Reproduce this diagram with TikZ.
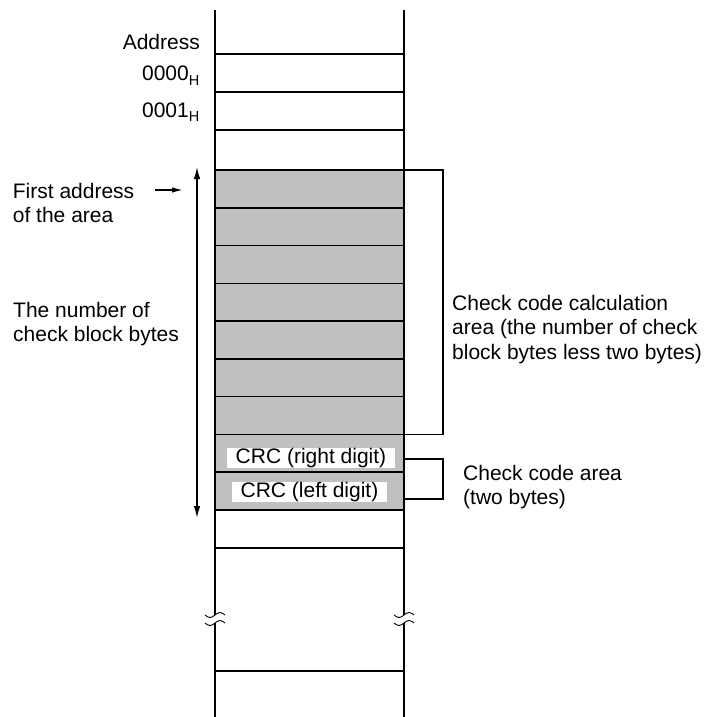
\documentclass[tikz,border=0pt]{standalone}
\usepackage{fontspec}
\setmainfont{Liberation Sans}
\usetikzlibrary{arrows.meta,calc}
\definecolor{cellgray}{RGB}{192,192,192}
\begin{document}
\begin{tikzpicture}[x=1pt,y=-1pt,
  every node/.style={font=\fontsize{21}{24.5}\selectfont},
  cell/.style={draw, line width=1.5pt, minimum width=189pt, minimum height=37.78pt, inner sep=0pt, outer sep=0pt},
  gcell/.style={cell, fill=cellgray},
  lbl/.style={align=left, anchor=north west, inner sep=0pt},
  addrlbl/.style={anchor=base east, inner sep=0pt},
  crc/.style={fill=white, inner xsep=9pt, inner ysep=0.5pt},
  wire/.style={line width=1.5pt},
  tilde/.style={line width=0.9pt},
  tip/.style={-{Latex[length=12pt,width=6.5pt]}, line width=1.4pt},
  dtip/.style={{Latex[length=12pt,width=6.5pt]}-{Latex[length=12pt,width=6.5pt]}, line width=1.4pt}]
\useasboundingbox (0,0) rectangle (705,717);

% memory cells
\node[cell] (c0) at (309.5,73) {};
\node[cell] (c1) at (309.5,111) {};
\foreach \i in {1,...,9} {
  \node[gcell] (g\i) at (309.5,{170+37.78*(\i-0.5)}) {};
}
\node[cell] (w1) at (309.5,529) {};
\draw[line width=2.6pt] (c0.south west) -- (c0.south east);

% column lines with break marks
\coordinate (LT) at (215,10);  \coordinate (LU) at (215,615);
\coordinate (LL) at (215,623); \coordinate (LB) at (215,717);
\coordinate (RT) at (404,10);  \coordinate (RU) at (404,615);
\coordinate (RL) at (404,623); \coordinate (RB) at (404,717);
\draw[wire] (LT) -- (LU);
\draw[wire] (LL) -- (LB);
\draw[wire] (RT) -- (RU);
\draw[wire] (RL) -- (RB);
\foreach \x in {215,404} {
  \foreach \y in {615,623} {
    \draw[tilde] ({\x-10},\y) sin ({\x-5},{\y+2.5}) cos (\x,\y) sin ({\x+5},{\y-2.5}) cos ({\x+10},\y);
  }
}
\coordinate (L671) at (215,671); \coordinate (R671) at (404,671);
\draw[wire] (L671) -- (R671);

% CRC labels
\node[crc] (crcR) at (311,458) {CRC (right digit)};
\node[crc] (crcL) at (309.5,492) {CRC (left digit)};

% address labels
\node[addrlbl] (addr) at (200,50) {Address};
\node[addrlbl] (a0) at (199.5,81) {0000\raisebox{-4.5pt}{\fontsize{14.5}{14.5}\selectfont H}};
\node[addrlbl] (a1) at (199.5,117) {0001\raisebox{-4.5pt}{\fontsize{14.5}{14.5}\selectfont H}};

% left labels and arrows
\node[lbl] (fa) at (12.7,183) {First address\\of the area};
\coordinate (fa1) at (155,190); \coordinate (fa2) at (183,190);
\draw[-{Latex[length=11pt,width=5.5pt]}, line width=1.4pt] (fa1) -- (fa2);
\node[lbl] (nb) at (13,302) {The number of\\check block bytes};
\coordinate (at) at (197,167); \coordinate (ab) at (197,518);
\draw[dtip] (at) -- (ab);

% right brackets and labels
\draw[wire] (g1.north east) -- ++(39,0) |- (g7.south east);
\coordinate (b2t) at (404,459); \coordinate (b2b) at (404,499);
\draw[wire] (b2t) -- ++(39,0) |- (b2b);
\node[lbl] (cc) at (452,295) {Check code calculation\\area (the number of check\\block bytes less two bytes)};
\node[lbl] (ca) at (463,465) {Check code area\\(two bytes)};
\end{tikzpicture}
\end{document}
